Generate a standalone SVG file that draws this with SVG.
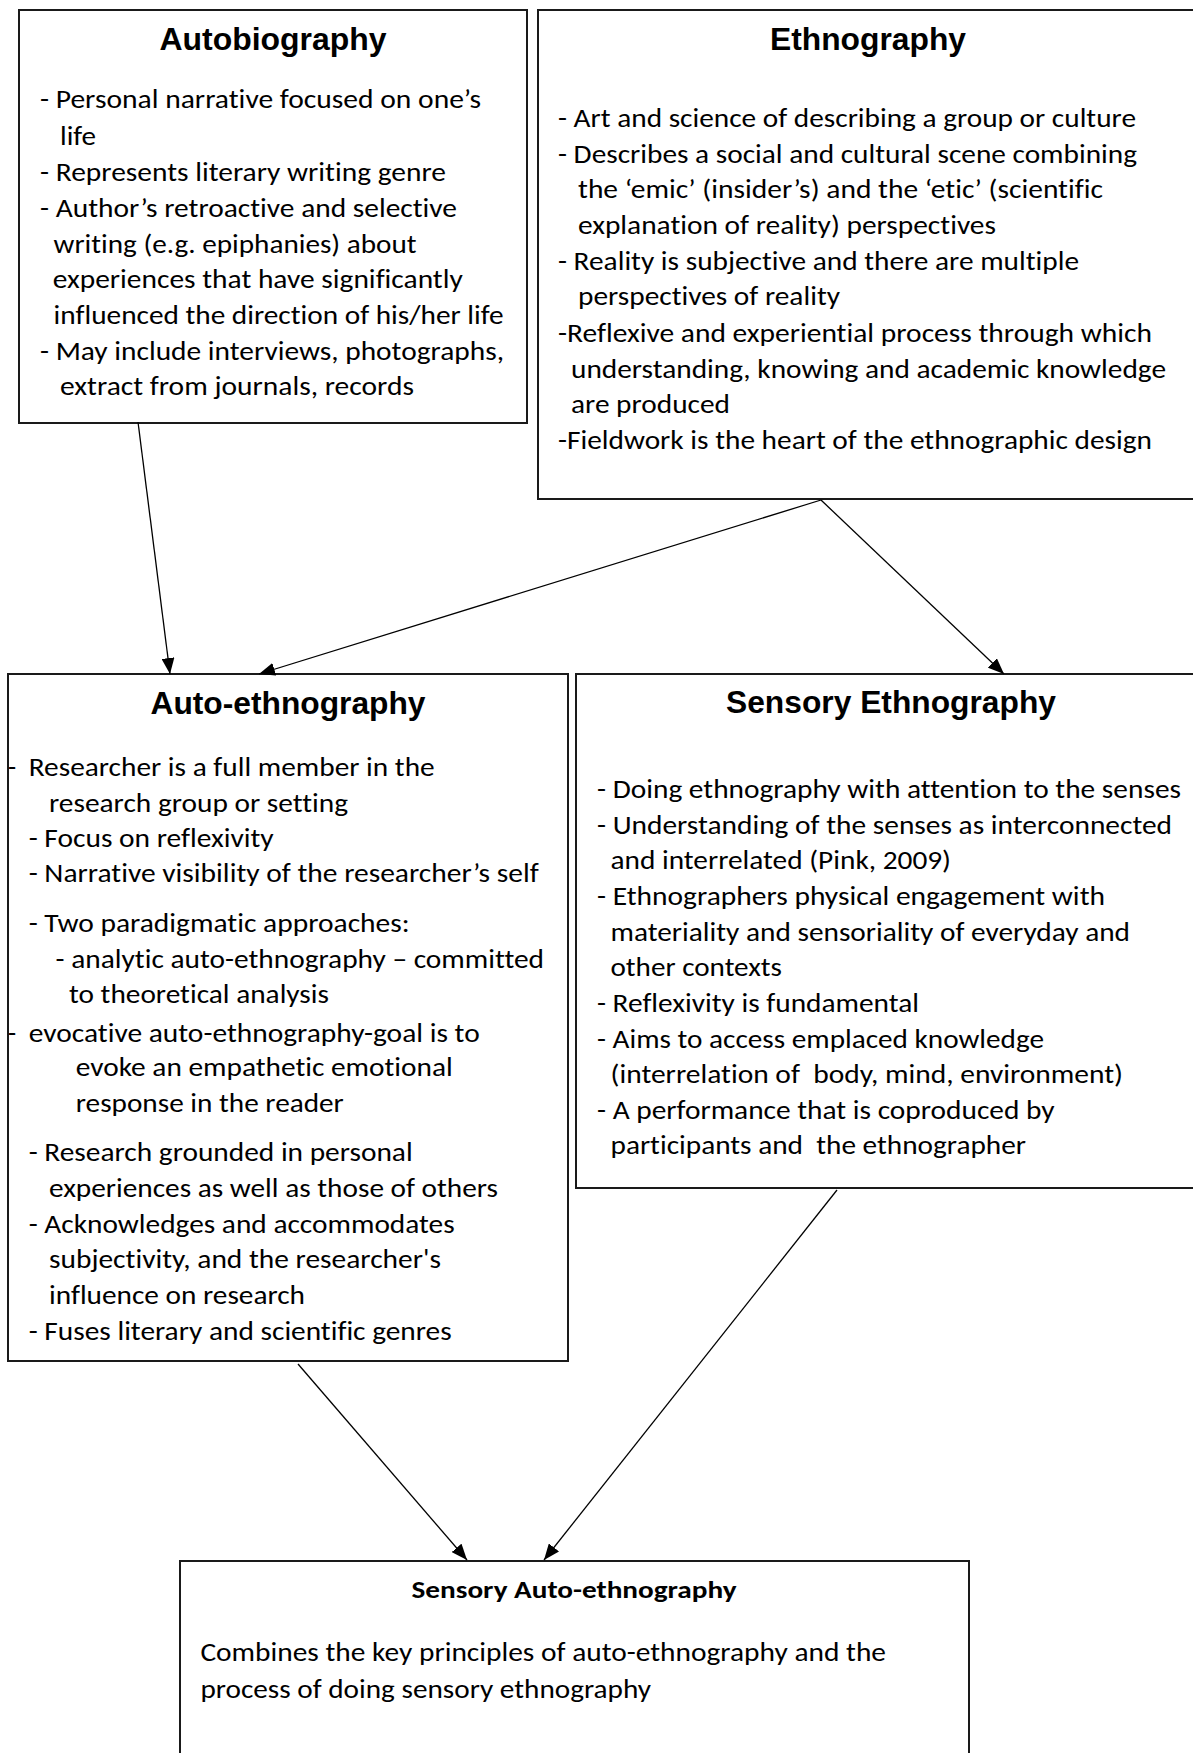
<svg xmlns="http://www.w3.org/2000/svg" width="1193" height="1753" viewBox="0 0 1193 1753">
  <style>
    .box { fill: #ffffff; stroke: #1a1a1a; stroke-width: 2; }
    .title { font-family: "Liberation Sans", Arial, sans-serif; font-weight: bold; font-size: 31.5px; fill: #000; text-anchor: middle; }
    .body { font-family: Calibri, Carlito, Lato, "Open Sans", sans-serif; font-size: 26.5px; fill: #000; font-variant-ligatures: none; }
    .subtitle { font-family: Calibri, Carlito, Lato, "Open Sans", sans-serif; font-weight: bold; font-size: 24px; fill: #000; text-anchor: middle; font-variant-ligatures: none; }
    .link { fill: none; stroke: #000; stroke-width: 1.3; marker-end: url(#arrow); }
  </style>
  <defs>
    <marker id="arrow" viewBox="0 0 16 13" refX="16" refY="6.5" markerWidth="16" markerHeight="13" markerUnits="userSpaceOnUse" orient="auto">
      <path d="M0,0 L16,6.5 L0,13 z" fill="#000"/>
    </marker>
  </defs>
  <rect width="1193" height="1753" fill="#ffffff"/>

  <!-- Autobiography -->
  <g id="autobiography">
    <rect class="box" x="19" y="10" width="508" height="413"/>
    <text class="title" x="273" y="50" textLength="227" lengthAdjust="spacingAndGlyphs">Autobiography</text>
    <text class="body" x="40" y="108" textLength="441" lengthAdjust="spacingAndGlyphs">- Personal narrative focused on one’s</text>
    <text class="body" x="60" y="144.5" textLength="36" lengthAdjust="spacingAndGlyphs">life</text>
    <text class="body" x="40" y="181" textLength="406" lengthAdjust="spacingAndGlyphs">- Represents literary writing genre</text>
    <text class="body" x="40" y="216.5" textLength="417" lengthAdjust="spacingAndGlyphs">- Author’s retroactive and selective</text>
    <text class="body" x="53.6" y="252.5" textLength="363" lengthAdjust="spacingAndGlyphs">writing (e.g. epiphanies) about</text>
    <text class="body" x="52.8" y="288" textLength="410" lengthAdjust="spacingAndGlyphs">experiences that have significantly</text>
    <text class="body" x="53.6" y="323.5" textLength="450" lengthAdjust="spacingAndGlyphs">influenced the direction of his/her life</text>
    <text class="body" x="40" y="359.5" textLength="464" lengthAdjust="spacingAndGlyphs">- May include interviews, photographs,</text>
    <text class="body" x="60" y="395" textLength="354" lengthAdjust="spacingAndGlyphs">extract from journals, records</text>
  </g>

  <!-- Ethnography -->
  <g id="ethnography">
    <rect class="box" x="538" y="10" width="662" height="489"/>
    <text class="title" x="868" y="50" textLength="196" lengthAdjust="spacingAndGlyphs">Ethnography</text>
    <text class="body" x="558" y="127" textLength="578" lengthAdjust="spacingAndGlyphs">- Art and science of describing a group or culture</text>
    <text class="body" x="558" y="162.5" textLength="579" lengthAdjust="spacingAndGlyphs">- Describes a social and cultural scene combining</text>
    <text class="body" x="578" y="198" textLength="525" lengthAdjust="spacingAndGlyphs">the ‘emic’ (insider’s) and the ‘etic’ (scientific</text>
    <text class="body" x="578" y="233.5" textLength="418" lengthAdjust="spacingAndGlyphs">explanation of reality) perspectives</text>
    <text class="body" x="558" y="269.5" textLength="521" lengthAdjust="spacingAndGlyphs">- Reality is subjective and there are multiple</text>
    <text class="body" x="578" y="305" textLength="262" lengthAdjust="spacingAndGlyphs">perspectives of reality</text>
    <text class="body" x="558" y="342" textLength="594" lengthAdjust="spacingAndGlyphs">-Reflexive and experiential process through which</text>
    <text class="body" x="571" y="377.5" textLength="595" lengthAdjust="spacingAndGlyphs">understanding, knowing and academic knowledge</text>
    <text class="body" x="571" y="413" textLength="159" lengthAdjust="spacingAndGlyphs">are produced</text>
    <text class="body" x="558" y="448.5" textLength="594" lengthAdjust="spacingAndGlyphs">-Fieldwork is the heart of the ethnographic design</text>
  </g>

  <!-- Auto-ethnography -->
  <g id="auto-ethnography">
    <rect class="box" x="8" y="674" width="560" height="687"/>
    <text class="title" x="288" y="713.5" textLength="275" lengthAdjust="spacingAndGlyphs">Auto-ethnography</text>
    <text class="body" x="8" y="776">-</text>
    <text class="body" x="28.7" y="776" textLength="406" lengthAdjust="spacingAndGlyphs">Researcher is a full member in the</text>
    <text class="body" x="49" y="812" textLength="299" lengthAdjust="spacingAndGlyphs">research group or setting</text>
    <text class="body" x="28.7" y="847" textLength="245" lengthAdjust="spacingAndGlyphs">- Focus on reflexivity</text>
    <text class="body" x="28.7" y="882" textLength="510" lengthAdjust="spacingAndGlyphs">- Narrative visibility of the researcher’s self</text>
    <text class="body" x="28.7" y="931.5" textLength="381" lengthAdjust="spacingAndGlyphs">- Two paradigmatic approaches:</text>
    <text class="body" x="55.5" y="968" textLength="488.5" lengthAdjust="spacingAndGlyphs">- analytic auto-ethnography – committed</text>
    <text class="body" x="69" y="1003" textLength="260" lengthAdjust="spacingAndGlyphs">to theoretical analysis</text>
    <text class="body" x="8" y="1042">-</text>
    <text class="body" x="28.7" y="1042" textLength="451" lengthAdjust="spacingAndGlyphs">evocative auto-ethnography-goal is to</text>
    <text class="body" x="75.8" y="1076" textLength="377" lengthAdjust="spacingAndGlyphs">evoke an empathetic emotional</text>
    <text class="body" x="75.8" y="1112" textLength="268" lengthAdjust="spacingAndGlyphs">response in the reader</text>
    <text class="body" x="28.7" y="1161" textLength="384" lengthAdjust="spacingAndGlyphs">- Research grounded in personal</text>
    <text class="body" x="49" y="1197" textLength="449" lengthAdjust="spacingAndGlyphs">experiences as well as those of others</text>
    <text class="body" x="28.7" y="1233" textLength="426" lengthAdjust="spacingAndGlyphs">- Acknowledges and accommodates</text>
    <text class="body" x="49" y="1268" textLength="392" lengthAdjust="spacingAndGlyphs">subjectivity, and the researcher's</text>
    <text class="body" x="49" y="1303.5" textLength="256" lengthAdjust="spacingAndGlyphs">influence on research</text>
    <text class="body" x="28.7" y="1340" textLength="423" lengthAdjust="spacingAndGlyphs">- Fuses literary and scientific genres</text>
  </g>

  <!-- Sensory Ethnography -->
  <g id="sensory-ethnography">
    <rect class="box" x="576" y="674" width="632" height="514"/>
    <text class="title" x="891" y="713" textLength="330" lengthAdjust="spacingAndGlyphs">Sensory Ethnography</text>
    <text class="body" x="597" y="798" textLength="584" lengthAdjust="spacingAndGlyphs">- Doing ethnography with attention to the senses</text>
    <text class="body" x="597" y="833.5" textLength="575" lengthAdjust="spacingAndGlyphs">- Understanding of the senses as interconnected</text>
    <text class="body" x="610.5" y="869" textLength="340.5" lengthAdjust="spacingAndGlyphs">and interrelated (Pink, 2009)</text>
    <text class="body" x="597" y="905" textLength="508" lengthAdjust="spacingAndGlyphs">- Ethnographers physical engagement with</text>
    <text class="body" x="610.5" y="940.5" textLength="519.5" lengthAdjust="spacingAndGlyphs">materiality and sensoriality of everyday and</text>
    <text class="body" x="610.5" y="976" textLength="171.5" lengthAdjust="spacingAndGlyphs">other contexts</text>
    <text class="body" x="597" y="1012" textLength="322" lengthAdjust="spacingAndGlyphs">- Reflexivity is fundamental</text>
    <text class="body" x="597" y="1047.5" textLength="447" lengthAdjust="spacingAndGlyphs">- Aims to access emplaced knowledge</text>
    <text class="body" x="610.5" y="1083" textLength="512.5" lengthAdjust="spacingAndGlyphs" xml:space="preserve">(interrelation of  body, mind, environment)</text>
    <text class="body" x="597" y="1119" textLength="457.6" lengthAdjust="spacingAndGlyphs">- A performance that is coproduced by</text>
    <text class="body" x="610.5" y="1154" textLength="415.5" lengthAdjust="spacingAndGlyphs" xml:space="preserve">participants and  the ethnographer</text>
  </g>

  <!-- Sensory Auto-ethnography -->
  <g id="sensory-auto-ethnography">
    <rect class="box" x="180" y="1561" width="789" height="210"/>
    <text class="subtitle" x="574" y="1598" textLength="325" lengthAdjust="spacingAndGlyphs">Sensory Auto-ethnography</text>
    <text class="body" x="200.4" y="1660.7" textLength="685.6" lengthAdjust="spacingAndGlyphs">Combines the key principles of auto-ethnography and the</text>
    <text class="body" x="200.4" y="1698" textLength="450.6" lengthAdjust="spacingAndGlyphs">process of doing sensory ethnography</text>
  </g>

  <!-- Connectors -->
  <g id="connectors">
    <line class="link" x1="138" y1="422" x2="170" y2="674"/>
    <line class="link" x1="821" y1="500" x2="259" y2="674"/>
    <line class="link" x1="821" y1="500" x2="1004" y2="674"/>
    <line class="link" x1="298" y1="1364" x2="467" y2="1560"/>
    <line class="link" x1="837" y1="1190" x2="544" y2="1560"/>
  </g>
</svg>
